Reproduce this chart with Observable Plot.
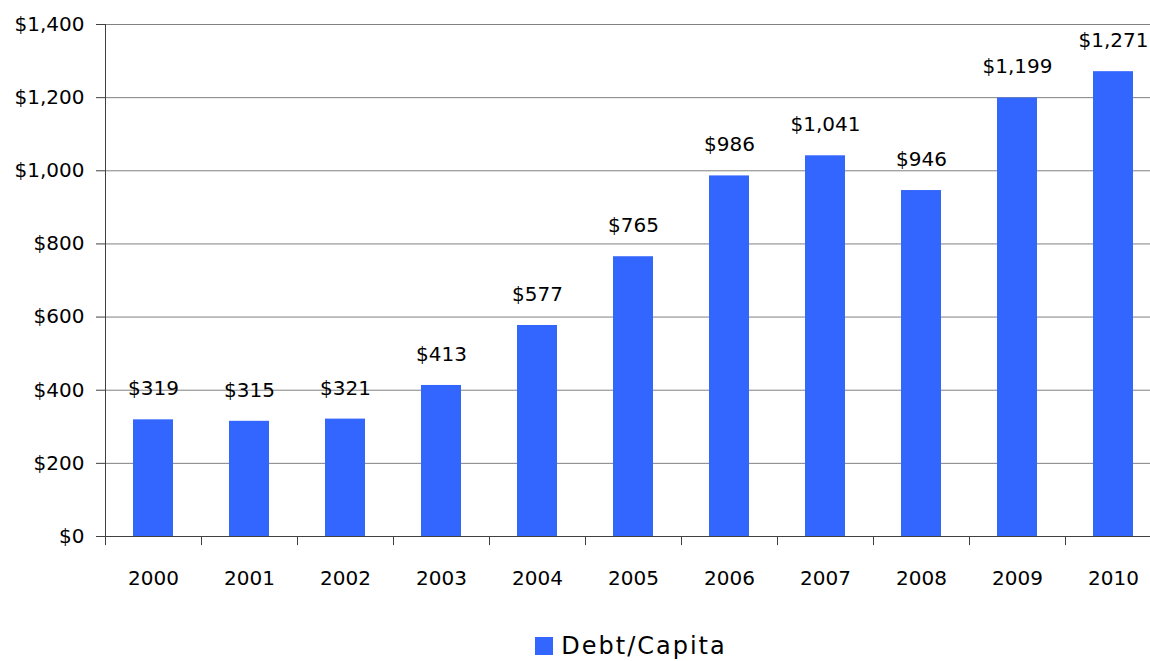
<!DOCTYPE html>
<html>
<head>
<meta charset="utf-8">
<script src="https://cdn.jsdelivr.net/npm/d3@7"></script>
<script src="https://cdn.jsdelivr.net/npm/@observablehq/plot@0.6"></script>
<style>
  html, body { margin: 0; padding: 0; background: #fff; overflow: hidden; width: 1150px; height: 661px; }
  #chart { width: 1150px; height: 600px; overflow: hidden; }
  #chart svg { max-width: none !important; }
  .legend { display: flex; justify-content: center; align-items: center; gap: 8px; margin-top: 32px; padding-left: 112px;
    font-family: "DejaVu Sans", sans-serif; font-size: 24px; letter-spacing: 2px; color: #000; }
  .legend .sw { width: 18px; height: 18px; background: #3366FF; display: inline-block; }
</style>
</head>
<body>
<div id="chart"></div>
<script>
const years = ["2000","2001","2002","2003","2004","2005","2006","2007","2008","2009","2010"];
const debtPerCapita = [319, 315, 321, 413, 577, 765, 986, 1041, 946, 1199, 1271];
const yTicks = [0, 200, 400, 600, 800, 1000, 1200, 1400];
const seriesName = "Debt/Capita";
const barColor = "#3366FF";

const data = years.map((y, i) => ({year: y, value: debtPerCapita[i]}));
const fmt = v => "$" + d3.format(",")(v);

const plot = Plot.plot({
  width: 1161,
  height: 600,
  marginLeft: 105,
  marginRight: 0,
  marginTop: 24,
  marginBottom: 64,
  style: {fontFamily: "DejaVu Sans, sans-serif", fontSize: "20px", color: "#000", background: "#fff", overflow: "visible", maxWidth: "none"},
  x: {domain: years, paddingInner: 0.583, paddingOuter: 0.2915, label: null},
  y: {domain: [0, 1400], ticks: yTicks, label: null},
  marks: [
    Plot.gridY(yTicks, {stroke: "#808080", strokeOpacity: 1}),
    Plot.barY(data, {x: "year", y: "value", fill: barColor}),
    Plot.text(data, {x: "year", y: "value", text: d => fmt(d.value), dy: -31, fontSize: 20, fill: "#000"}),
    Plot.ruleY([0], {stroke: "#404040"}),
    Plot.frame({anchor: "left", stroke: "#404040"}),
    Plot.ruleX(years, {x: d => d, y1: 0, y2: -25, dx: -48, stroke: "#404040", clip: false}),
    Plot.axisY(yTicks, {tickSize: 9, tickPadding: 12, tickFormat: fmt, stroke: "#404040", fontSize: 20}),
    Plot.axisX({tickSize: 0, tickPadding: 34, fontSize: 20})
  ]
});
document.getElementById("chart").appendChild(plot);

const legend = document.createElement("div");
legend.className = "legend";
legend.innerHTML = `<span class="sw"></span><span>${seriesName}</span>`;
document.body.appendChild(legend);
</script>
</body>
</html>
